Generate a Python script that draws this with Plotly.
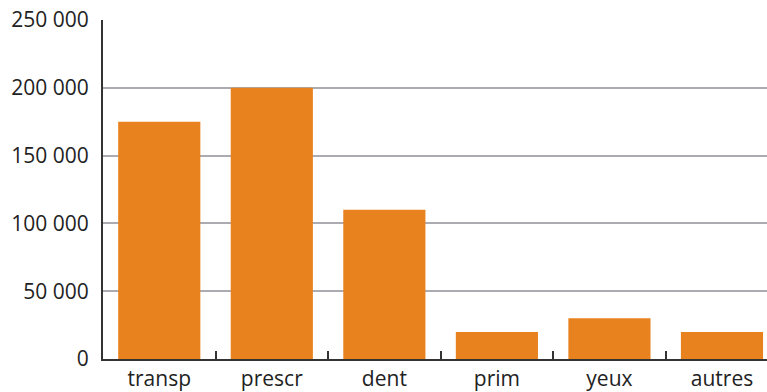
import plotly.graph_objects as go

categories = ["transp", "prescr", "dent", "prim", "yeux", "autres"]
values = [175000, 200000, 110000, 20000, 30000, 20000]
y_ticks = [0, 50000, 100000, 150000, 200000, 250000]
y_tick_labels = ["0", "50 000", "100 000", "150 000", "200 000", "250 000"]

fig = go.Figure(
    go.Bar(
        x=categories,
        y=values,
        marker=dict(color="#E8821E", line=dict(width=0)),
    )
)

fig.update_layout(
    width=767,
    height=392,
    margin=dict(l=103, r=0, t=20, b=33),
    paper_bgcolor="white",
    plot_bgcolor="white",
    bargap=0.27,
    showlegend=False,
    font=dict(family="Open Sans, Liberation Sans, sans-serif", size=21, color="#222222"),
)

fig.update_xaxes(
    range=[-0.5, 5.4],
    showgrid=False,
    showline=True,
    linecolor="#333333",
    linewidth=2,
    ticks="inside",
    tickson="boundaries",
    ticklen=8,
    tickwidth=2,
    tickcolor="#333333",
    tickfont=dict(size=21),
    automargin=False,
)

fig.update_yaxes(
    range=[0, 250000],
    tickvals=y_ticks,
    ticktext=y_tick_labels,
    showgrid=True,
    gridcolor="#ABABB1",
    gridwidth=2,
    showline=True,
    linecolor="#333333",
    linewidth=2,
    ticks="",
    zeroline=False,
    ticklabelstandoff=8,
)

fig.write_html("out.html")
